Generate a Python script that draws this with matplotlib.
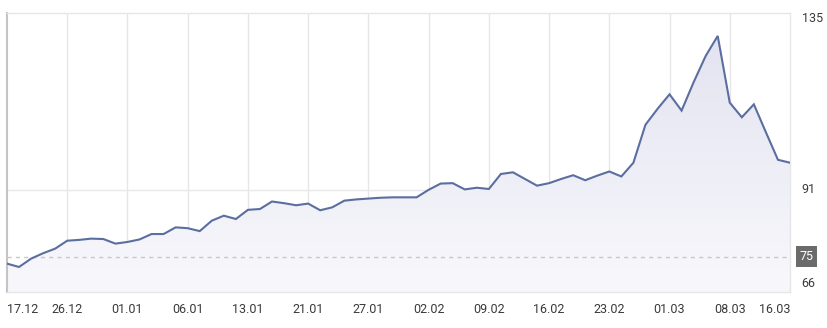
import matplotlib
matplotlib.use('Agg')
import matplotlib.pyplot as plt
import numpy as np
from matplotlib.patches import Polygon

plt.rcParams['font.family'] = ['Roboto', 'DejaVu Sans']

# trading-day series, index 0 = 17.12
values = [73.3, 72.5, 74.5, 75.8, 76.9, 78.8, 79.0, 79.3, 79.2, 78.1,
          78.5, 79.1, 80.4, 80.4, 82.0, 81.8, 81.1, 83.6, 84.8, 84.0,
          86.2, 86.4, 88.2, 87.8, 87.3, 87.7, 86.1, 86.8, 88.4, 88.7,
          88.9, 89.1, 89.2, 89.2, 89.2, 91.0, 92.5, 92.6, 91.1, 91.5,
          91.2, 94.8, 95.2, 93.6, 92.0, 92.6, 93.6, 94.5, 93.3, 94.4,
          95.4, 94.2, 97.5, 106.6, 110.4, 113.9, 110.0, 116.8, 123.1, 127.9,
          111.9, 108.4, 111.5, 104.8, 98.2, 97.5]
tick_idx = [0, 5, 10, 15, 20, 25, 30, 35, 40, 45, 50, 55, 60, 65]
tick_labels = ['17.12', '26.12', '01.01', '06.01', '13.01', '21.01', '27.01',
               '02.02', '09.02', '16.02', '23.02', '01.03', '08.03', '16.03']
ref_level = 75
mid_level = 91
y_min_label = 66
y_max_label = 135

x = np.arange(len(values))
y = np.array(values)

fig = plt.figure(figsize=(8.27, 3.28), dpi=100)
ax = fig.add_axes([7 / 827, 36 / 328, 783 / 827, 279 / 328])
ymin, ymax = 66.5, 133.4
ax.set_xlim(0, len(values) - 1)
ax.set_ylim(ymin, ymax)

# gradient fill under the line
grad = np.linspace(0, 1, 256).reshape(-1, 1)
cmap = matplotlib.colors.LinearSegmentedColormap.from_list(
    'fill', ['#f8f8fc', '#e1e2ef'])
im = ax.imshow(grad, extent=[0, len(values) - 1, ymin, ymax], origin='lower',
               aspect='auto', cmap=cmap, zorder=1)
verts = np.vstack([[0, ymin], np.column_stack([x, y]), [len(values) - 1, ymin]])
poly = Polygon(verts, closed=True, transform=ax.transData, facecolor='none', edgecolor='none')
ax.add_patch(poly)
im.set_clip_path(poly)

ax.plot(x, y, color='#5b6ea0', lw=1.5, zorder=3, solid_joinstyle='miter')

# grid
for t in tick_idx[1:-1]:
    ax.axvline(t, color='#e6e6e9', lw=1, zorder=0)
ax.axhline(mid_level, color='#e8e8ec', lw=1, zorder=0)
ax.axhline(ref_level, color='#c8c8cc', lw=1, ls=(0, (3, 3)), zorder=2)

for s in ['top', 'right', 'bottom']:
    ax.spines[s].set_color('#e6e6e9')
    ax.spines[s].set_linewidth(1)
ax.spines['left'].set_color('#c4c4c4')
ax.spines['left'].set_linewidth(1.5)

ax.set_xticks(tick_idx)
ax.set_xticklabels(tick_labels, fontsize=9, color='#3a3a3a')
ax.tick_params(axis='x', length=0, pad=8)
labels = ax.get_xticklabels()
labels[0].set_ha('left')
labels[-1].set_ha('right')
ax.set_yticks([])

# right-side value labels
tr = matplotlib.transforms.blended_transform_factory(ax.transAxes, ax.transData)
ax.text(1.015, 132.0, str(y_max_label), transform=tr, fontsize=9, color='#3a3a3a',
        va='center', ha='left')
ax.text(1.015, mid_level, str(mid_level), transform=tr, fontsize=9, color='#3a3a3a',
        va='center', ha='left')
ax.text(1.015, 68.6, str(y_min_label), transform=tr, fontsize=9, color='#3a3a3a',
        va='center', ha='left')
ax.text(1.012, ref_level, str(ref_level), transform=tr, fontsize=9, color='white',
        va='center', ha='left',
        bbox=dict(boxstyle='square,pad=0.3', facecolor='#6b6b6b', edgecolor='none'))

fig.savefig('out.png', dpi=100)
